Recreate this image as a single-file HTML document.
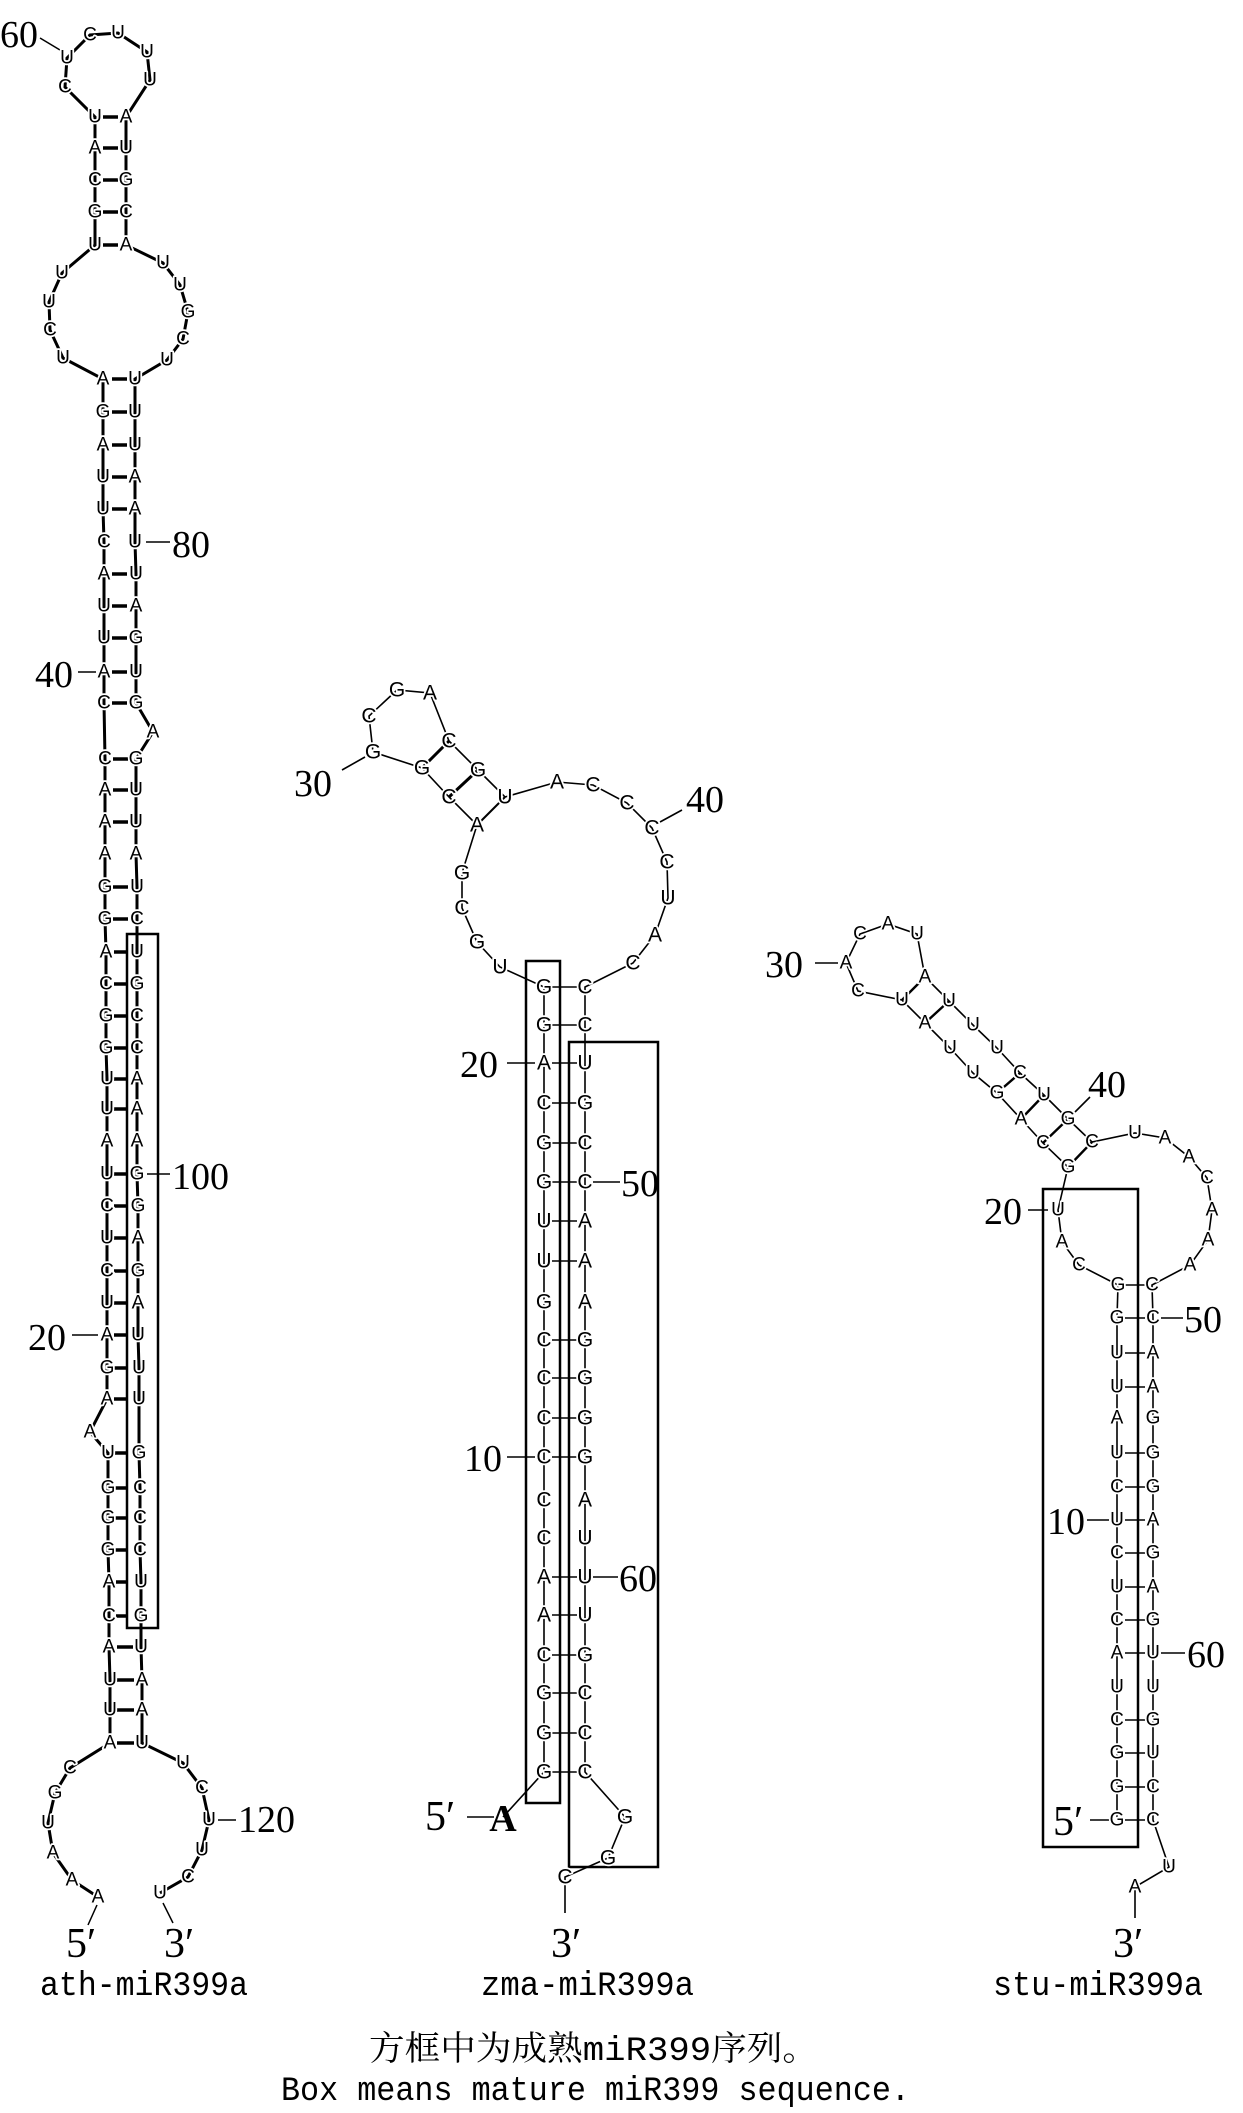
<!DOCTYPE html>
<html><head><meta charset="utf-8">
<style>
html,body{margin:0;padding:0;background:#fff;}
svg{display:block;}
.n{font-family:"Liberation Sans",Arial,sans-serif;font-size:19px;text-anchor:middle;dominant-baseline:central;fill:#000;stroke:#fff;stroke-width:3.5px;paint-order:stroke;stroke-linejoin:round;}
.z{font-size:21px;}
.L{font-family:"Liberation Serif",serif;font-size:38px;fill:#000;dominant-baseline:central;}
.T{font-family:"Liberation Mono","Noto Serif CJK SC",monospace;font-size:34px;fill:#000;}
</style></head><body>
<svg width="1243" height="2113" viewBox="0 0 1243 2113" xmlns="http://www.w3.org/2000/svg">
<!-- ================= ath ================= -->
<g fill="none" stroke="#000">
<polyline stroke-width="3" points="98,1897 72,1880 53,1853 48,1823 55,1793 70,1768 110,1743 110,1710 110,1680 109,1647 109,1616 109,1582 108,1550 108,1518 108,1488 108,1453 90,1432 107,1399 107,1368 107,1335 107,1303 107,1271 107,1238 107,1206 107,1174 107,1141 107,1109 107,1079 106,1048 106,1016 106,984 106,952 105,919 105,887 105,854 105,822 105,790 105,759 104,703 104,672 104,638 104,606 104,574 104,542 103,509 103,477 103,445 103,412 103,379 63,358 50,330 49,302 62,273 95,245 95,212 95,180 95,148 95,117 65,87 67,58 90,35 118,33 147,52 150,80 126,117 126,148 126,180 126,212 126,245 163,263 180,285 188,312 183,339 167,360 135,379 135,412 135,445 135,477 135,509 135,542 136,574 136,606 136,638 136,672 136,703 153,732 136,759 136,790 136,822 136,854 137,887 137,919 137,952 137,984 137,1016 137,1048 137,1079 137,1109 137,1141 137,1174 138,1206 138,1238 138,1271 138,1303 138,1335 139,1368 139,1399 139,1453 140,1488 140,1518 140,1550 141,1582 141,1616 141,1647 142,1680 142,1710 142,1743 183,1763 202,1788 209,1820 202,1850 188,1877 160,1893"/>
<g stroke-width="3.5">
<line x1="103" y1="117" x2="118" y2="117"/><line x1="103" y1="148" x2="118" y2="148"/><line x1="103" y1="180" x2="118" y2="180"/><line x1="103" y1="212" x2="118" y2="212"/><line x1="103" y1="245" x2="118" y2="245"/>
<line x1="112" y1="379" x2="127" y2="379"/><line x1="112" y1="412" x2="127" y2="412"/><line x1="112" y1="445" x2="127" y2="445"/><line x1="112" y1="477" x2="127" y2="477"/><line x1="112" y1="509" x2="127" y2="509"/>
<line x1="112" y1="574" x2="127" y2="574"/><line x1="112" y1="606" x2="127" y2="606"/><line x1="112" y1="638" x2="127" y2="638"/><line x1="112" y1="672" x2="127" y2="672"/><line x1="112" y1="703" x2="127" y2="703"/>
<line x1="113" y1="759" x2="128" y2="759"/><line x1="113" y1="790" x2="128" y2="790"/><line x1="113" y1="822" x2="128" y2="822"/><line x1="113" y1="887" x2="128" y2="887"/><line x1="113" y1="919" x2="128" y2="919"/>
<line x1="114" y1="952" x2="128" y2="952"/><line x1="114" y1="984" x2="128" y2="984"/><line x1="114" y1="1016" x2="128" y2="1016"/><line x1="114" y1="1048" x2="128" y2="1048"/><line x1="114" y1="1079" x2="128" y2="1079"/><line x1="114" y1="1109" x2="128" y2="1109"/><line x1="114" y1="1174" x2="128" y2="1174"/><line x1="114" y1="1206" x2="128" y2="1206"/><line x1="114" y1="1238" x2="128" y2="1238"/><line x1="114" y1="1271" x2="128" y2="1271"/><line x1="114" y1="1303" x2="128" y2="1303"/><line x1="114" y1="1335" x2="128" y2="1335"/><line x1="114" y1="1368" x2="128" y2="1368"/><line x1="114" y1="1399" x2="128" y2="1399"/><line x1="115" y1="1453" x2="128" y2="1453"/><line x1="115" y1="1488" x2="128" y2="1488"/><line x1="115" y1="1518" x2="128" y2="1518"/><line x1="115" y1="1550" x2="128" y2="1550"/><line x1="116" y1="1582" x2="128" y2="1582"/><line x1="116" y1="1616" x2="128" y2="1616"/>
<line x1="117" y1="1647" x2="133" y2="1647"/><line x1="117" y1="1680" x2="134" y2="1680"/><line x1="117" y1="1710" x2="134" y2="1710"/><line x1="117" y1="1743" x2="134" y2="1743"/>
</g>
<rect x="127" y="934" width="31" height="694" stroke-width="2.5"/>
<g stroke-width="1.5">
<line x1="40" y1="38" x2="60" y2="50"/>
<line x1="146" y1="542" x2="170" y2="542"/>
<line x1="78" y1="672" x2="96" y2="672"/>
<line x1="147" y1="1174" x2="170" y2="1174"/>
<line x1="72" y1="1335" x2="98" y2="1335"/>
<line x1="218" y1="1820" x2="236" y2="1820"/>
<line x1="97" y1="1905" x2="88" y2="1925"/>
<line x1="163" y1="1903" x2="173" y2="1923"/>
</g>
</g>
<g class="n">
<text x="67" y="58">U</text><text x="65" y="87">C</text><text x="90" y="35">C</text><text x="118" y="33">U</text><text x="147" y="52">U</text><text x="150" y="80">U</text>
<text x="95" y="117">U</text><text x="95" y="148">A</text><text x="95" y="180">C</text><text x="95" y="212">G</text><text x="95" y="245">U</text>
<text x="126" y="117">A</text><text x="126" y="148">U</text><text x="126" y="180">G</text><text x="126" y="212">C</text><text x="126" y="245">A</text>
<text x="62" y="273">U</text><text x="49" y="302">U</text><text x="50" y="330">C</text><text x="63" y="358">U</text>
<text x="163" y="263">U</text><text x="180" y="285">U</text><text x="188" y="312">G</text><text x="183" y="339">C</text><text x="167" y="360">U</text>
<text x="103" y="379">A</text><text x="103" y="412">G</text><text x="103" y="445">A</text><text x="103" y="477">U</text><text x="103" y="509">U</text><text x="104" y="542">C</text><text x="104" y="574">A</text><text x="104" y="606">U</text><text x="104" y="638">U</text><text x="104" y="672">A</text><text x="104" y="703">C</text>
<text x="105" y="759">C</text><text x="105" y="790">A</text><text x="105" y="822">A</text><text x="105" y="854">A</text><text x="105" y="887">G</text><text x="105" y="919">G</text><text x="106" y="952">A</text><text x="106" y="984">C</text><text x="106" y="1016">G</text><text x="106" y="1048">G</text><text x="107" y="1079">U</text><text x="107" y="1109">U</text><text x="107" y="1141">A</text><text x="107" y="1174">U</text><text x="107" y="1206">C</text><text x="107" y="1238">U</text><text x="107" y="1271">C</text><text x="107" y="1303">U</text><text x="107" y="1335">A</text><text x="107" y="1368">G</text><text x="107" y="1399">A</text>
<text x="90" y="1432">A</text>
<text x="108" y="1453">U</text><text x="108" y="1488">G</text><text x="108" y="1518">G</text><text x="108" y="1550">G</text><text x="109" y="1582">A</text><text x="109" y="1616">C</text><text x="109" y="1647">A</text><text x="110" y="1680">U</text><text x="110" y="1710">U</text><text x="110" y="1743">A</text>
<text x="135" y="379">U</text><text x="135" y="412">U</text><text x="135" y="445">U</text><text x="135" y="477">A</text><text x="135" y="509">A</text><text x="135" y="542">U</text><text x="136" y="574">U</text><text x="136" y="606">A</text><text x="136" y="638">G</text><text x="136" y="672">U</text><text x="136" y="703">G</text>
<text x="153" y="732">A</text>
<text x="136" y="759">G</text><text x="136" y="790">U</text><text x="136" y="822">U</text><text x="136" y="854">A</text><text x="137" y="887">U</text><text x="137" y="919">C</text><text x="137" y="952">U</text><text x="137" y="984">G</text><text x="137" y="1016">C</text><text x="137" y="1048">C</text><text x="137" y="1079">A</text><text x="137" y="1109">A</text><text x="137" y="1141">A</text><text x="137" y="1174">G</text><text x="138" y="1206">G</text><text x="138" y="1238">A</text><text x="138" y="1271">G</text><text x="138" y="1303">A</text><text x="138" y="1335">U</text><text x="139" y="1368">U</text><text x="139" y="1399">U</text><text x="139" y="1453">G</text><text x="140" y="1488">C</text><text x="140" y="1518">C</text><text x="140" y="1550">C</text><text x="141" y="1582">U</text><text x="141" y="1616">G</text><text x="141" y="1647">U</text><text x="142" y="1680">A</text><text x="142" y="1710">A</text><text x="142" y="1743">U</text>
<text x="70" y="1768">C</text><text x="55" y="1793">G</text><text x="48" y="1823">U</text><text x="53" y="1853">A</text><text x="72" y="1880">A</text><text x="98" y="1897">A</text>
<text x="183" y="1763">U</text><text x="202" y="1788">C</text><text x="209" y="1820">U</text><text x="202" y="1850">U</text><text x="188" y="1877">C</text><text x="160" y="1893">U</text>
</g>
<g class="L">
<text x="0" y="35">60</text>
<text x="172" y="545">80</text>
<text x="35" y="675">40</text>
<text x="172" y="1177">100</text>
<text x="28" y="1338">20</text>
<text x="238" y="1820">120</text>
<text x="66" y="1944" font-size="42">5′</text>
<text x="164" y="1944" font-size="42">3′</text>
</g>
<!-- ================= zma ================= -->
<g fill="none" stroke="#000" stroke-width="1.6">
<polyline points="503,1817 544,1772 544,1733 544,1693 544,1655 544,1615 544,1577 544,1538 544,1500 544,1457 544,1418 544,1378 544,1340 544,1302 544,1261 544,1221 544,1182 544,1143 544,1103 544,1063 544,1025 544,987 500,967 477,942 462,908 462,873 477,825 449,797 422,768 373,752 369,716 397,690 430,693 449,741 478,770 505,797 557,782 593,785 627,803 652,828 667,862 668,898 655,935 633,963 585,987 585,1025 585,1063 585,1103 585,1143 585,1182 585,1221 585,1261 585,1302 585,1340 585,1378 585,1418 585,1457 585,1500 585,1538 585,1577 585,1615 585,1655 585,1693 585,1733 585,1772 625,1817 608,1858 565,1877 565,1913"/>
<line x1="422" y1="768" x2="449" y2="741" stroke-width="3"/>
<line x1="449" y1="797" x2="478" y2="770" stroke-width="3"/>
<line x1="505" y1="797" x2="477" y2="825" stroke-width="2"/>
<g stroke-width="1.6">
<line x1="552" y1="987" x2="577" y2="987"/><line x1="552" y1="1025" x2="577" y2="1025"/><line x1="552" y1="1063" x2="577" y2="1063"/><line x1="552" y1="1103" x2="577" y2="1103"/><line x1="552" y1="1143" x2="577" y2="1143"/><line x1="552" y1="1182" x2="577" y2="1182"/><line x1="552" y1="1221" x2="577" y2="1221"/><line x1="552" y1="1261" x2="577" y2="1261"/><line x1="552" y1="1340" x2="577" y2="1340"/><line x1="552" y1="1378" x2="577" y2="1378"/><line x1="552" y1="1418" x2="577" y2="1418"/><line x1="552" y1="1457" x2="577" y2="1457"/><line x1="552" y1="1577" x2="577" y2="1577"/><line x1="552" y1="1615" x2="577" y2="1615"/><line x1="552" y1="1655" x2="577" y2="1655"/><line x1="552" y1="1693" x2="577" y2="1693"/><line x1="552" y1="1733" x2="577" y2="1733"/><line x1="552" y1="1772" x2="577" y2="1772"/>
<line x1="342" y1="770" x2="365" y2="757"/><line x1="660" y1="822" x2="682" y2="810"/>
<line x1="507" y1="1063" x2="535" y2="1063"/><line x1="593" y1="1182" x2="620" y2="1182"/><line x1="507" y1="1457" x2="535" y2="1457"/><line x1="593" y1="1577" x2="618" y2="1577"/>
<line x1="467" y1="1817" x2="494" y2="1817"/>
</g>
<rect x="526" y="961" width="34" height="842" stroke-width="2.5"/>
<rect x="569" y="1042" width="89" height="825" stroke-width="2.5"/>
</g>
<g class="n z">
<text x="397" y="690">G</text><text x="430" y="693">A</text><text x="369" y="716">C</text><text x="373" y="752">G</text><text x="422" y="768">G</text><text x="449" y="741">C</text><text x="478" y="770">G</text><text x="449" y="797">C</text><text x="505" y="797">U</text><text x="477" y="825">A</text>
<text x="462" y="873">G</text><text x="462" y="908">C</text><text x="477" y="942">G</text><text x="500" y="967">U</text>
<text x="557" y="782">A</text><text x="593" y="785">C</text><text x="627" y="803">C</text><text x="652" y="828">C</text><text x="667" y="862">C</text><text x="668" y="898">U</text><text x="655" y="935">A</text><text x="633" y="963">C</text>
<text x="544" y="987">G</text><text x="544" y="1025">G</text><text x="544" y="1063">A</text><text x="544" y="1103">C</text><text x="544" y="1143">G</text><text x="544" y="1182">G</text><text x="544" y="1221">U</text><text x="544" y="1261">U</text><text x="544" y="1302">G</text><text x="544" y="1340">C</text><text x="544" y="1378">C</text><text x="544" y="1418">C</text><text x="544" y="1457">C</text><text x="544" y="1500">C</text><text x="544" y="1538">C</text><text x="544" y="1577">A</text><text x="544" y="1615">A</text><text x="544" y="1655">C</text><text x="544" y="1693">G</text><text x="544" y="1733">G</text><text x="544" y="1772">G</text>
<text x="585" y="987">C</text><text x="585" y="1025">C</text><text x="585" y="1063">U</text><text x="585" y="1103">G</text><text x="585" y="1143">C</text><text x="585" y="1182">C</text><text x="585" y="1221">A</text><text x="585" y="1261">A</text><text x="585" y="1302">A</text><text x="585" y="1340">G</text><text x="585" y="1378">G</text><text x="585" y="1418">G</text><text x="585" y="1457">G</text><text x="585" y="1500">A</text><text x="585" y="1538">U</text><text x="585" y="1577">U</text><text x="585" y="1615">U</text><text x="585" y="1655">G</text><text x="585" y="1693">C</text><text x="585" y="1733">C</text><text x="585" y="1772">C</text>
<text x="625" y="1817">G</text><text x="608" y="1858">G</text><text x="565" y="1877">C</text>
</g>
<text x="503" y="1819" class="L" font-size="36" font-weight="bold" text-anchor="middle">A</text>
<g class="L">
<text x="294" y="784">30</text><text x="686" y="800">40</text>
<text x="460" y="1065">20</text><text x="621" y="1184">50</text>
<text x="464" y="1459">10</text><text x="619" y="1579">60</text>
<text x="425" y="1817" font-size="42">5′</text>
<text x="551" y="1944" font-size="42">3′</text>
</g>
<!-- ================= stu ================= -->
<g fill="none" stroke="#000" stroke-width="1.6">
<polyline points="1117,1820 1117,1787 1117,1753 1117,1720 1117,1687 1117,1653 1117,1620 1117,1587 1117,1553 1117,1520 1117,1487 1117,1453 1117,1418 1117,1387 1117,1353 1117,1318 1118,1285 1079,1265 1062,1242 1058,1210 1068,1167 1043,1143 1021,1119 997,1093 973,1073 950,1048 925,1023 902,1000 858,991 846,963 860,934 888,924 917,934 925,977 949,1001 973,1025 997,1048 1020,1073 1044,1095 1068,1119 1092,1142 1135,1133 1165,1138 1189,1157 1207,1178 1212,1210 1208,1240 1190,1265 1152,1285 1153,1318 1153,1353 1153,1387 1153,1418 1153,1453 1153,1487 1153,1520 1153,1553 1153,1587 1153,1620 1153,1653 1153,1687 1153,1720 1153,1753 1153,1787 1153,1820 1169,1867 1135,1887 1135,1918"/>
<g stroke-width="2.4">
<line x1="902" y1="1000" x2="925" y2="977"/><line x1="925" y1="1023" x2="949" y2="1001"/><line x1="997" y1="1093" x2="1020" y2="1073"/><line x1="1021" y1="1119" x2="1044" y2="1095"/><line x1="1043" y1="1143" x2="1068" y2="1119"/><line x1="1068" y1="1167" x2="1092" y2="1142"/>
</g>
<g stroke-width="1.6">
<line x1="1125" y1="1285" x2="1145" y2="1285"/><line x1="1125" y1="1318" x2="1145" y2="1318"/><line x1="1125" y1="1353" x2="1145" y2="1353"/><line x1="1125" y1="1387" x2="1145" y2="1387"/><line x1="1125" y1="1453" x2="1145" y2="1453"/><line x1="1125" y1="1487" x2="1145" y2="1487"/><line x1="1125" y1="1520" x2="1145" y2="1520"/><line x1="1125" y1="1553" x2="1145" y2="1553"/><line x1="1125" y1="1587" x2="1145" y2="1587"/><line x1="1125" y1="1620" x2="1145" y2="1620"/><line x1="1125" y1="1653" x2="1145" y2="1653"/><line x1="1125" y1="1720" x2="1145" y2="1720"/><line x1="1125" y1="1753" x2="1145" y2="1753"/><line x1="1125" y1="1787" x2="1145" y2="1787"/><line x1="1125" y1="1820" x2="1145" y2="1820"/>
<line x1="815" y1="963" x2="838" y2="963"/><line x1="1075" y1="1112" x2="1090" y2="1097"/>
<line x1="1028" y1="1210" x2="1048" y2="1210"/><line x1="1161" y1="1318" x2="1183" y2="1318"/>
<line x1="1087" y1="1520" x2="1109" y2="1520"/><line x1="1161" y1="1653" x2="1185" y2="1653"/>
<line x1="1090" y1="1820" x2="1109" y2="1820"/>
</g>
<rect x="1043" y="1189" width="95" height="658" stroke-width="2.5"/>
</g>
<g class="n">
<text x="860" y="934">C</text><text x="888" y="924">A</text><text x="917" y="934">U</text><text x="846" y="963">A</text><text x="858" y="991">C</text>
<text x="902" y="1000">U</text><text x="925" y="977">A</text><text x="949" y="1001">U</text><text x="925" y="1023">A</text><text x="973" y="1025">U</text><text x="950" y="1048">U</text><text x="997" y="1048">U</text><text x="973" y="1073">U</text><text x="1020" y="1073">C</text><text x="997" y="1093">G</text><text x="1044" y="1095">U</text><text x="1021" y="1119">A</text><text x="1068" y="1119">G</text><text x="1043" y="1143">C</text><text x="1092" y="1142">C</text><text x="1068" y="1167">G</text>
<text x="1135" y="1133">U</text><text x="1165" y="1138">A</text><text x="1189" y="1157">A</text><text x="1207" y="1178">C</text><text x="1212" y="1210">A</text><text x="1208" y="1240">A</text><text x="1190" y="1265">A</text>
<text x="1058" y="1210">U</text><text x="1062" y="1242">A</text><text x="1079" y="1265">C</text>
<text x="1118" y="1285">G</text><text x="1117" y="1318">G</text><text x="1117" y="1353">U</text><text x="1117" y="1387">U</text><text x="1117" y="1418">A</text><text x="1117" y="1453">U</text><text x="1117" y="1487">C</text><text x="1117" y="1520">U</text><text x="1117" y="1553">C</text><text x="1117" y="1587">U</text><text x="1117" y="1620">C</text><text x="1117" y="1653">A</text><text x="1117" y="1687">U</text><text x="1117" y="1720">C</text><text x="1117" y="1753">G</text><text x="1117" y="1787">G</text><text x="1117" y="1820">G</text>
<text x="1152" y="1285">C</text><text x="1153" y="1318">C</text><text x="1153" y="1353">A</text><text x="1153" y="1387">A</text><text x="1153" y="1418">G</text><text x="1153" y="1453">G</text><text x="1153" y="1487">G</text><text x="1153" y="1520">A</text><text x="1153" y="1553">G</text><text x="1153" y="1587">A</text><text x="1153" y="1620">G</text><text x="1153" y="1653">U</text><text x="1153" y="1687">U</text><text x="1153" y="1720">G</text><text x="1153" y="1753">U</text><text x="1153" y="1787">C</text><text x="1153" y="1820">C</text>
<text x="1169" y="1867">U</text><text x="1135" y="1887">A</text>
</g>
<g class="L">
<text x="765" y="965">30</text><text x="1088" y="1085">40</text>
<text x="984" y="1212">20</text><text x="1184" y="1320">50</text>
<text x="1047" y="1522">10</text><text x="1187" y="1655">60</text>
<text x="1053" y="1822" font-size="42">5′</text>
<text x="1113" y="1944" font-size="42">3′</text>
</g>
<!-- ================= captions ================= -->
<text class="T" x="40" y="1995" textLength="208" lengthAdjust="spacingAndGlyphs">ath-miR399a</text>
<text class="T" x="481" y="1995" textLength="213" lengthAdjust="spacingAndGlyphs">zma-miR399a</text>
<text class="T" x="993" y="1995" textLength="210" lengthAdjust="spacingAndGlyphs">stu-miR399a</text>
<text class="T" x="369" y="2060" font-size="36" textLength="449" lengthAdjust="spacingAndGlyphs">方框中为成熟miR399序列。</text>
<text class="T" x="281" y="2100" font-size="36" textLength="629" lengthAdjust="spacingAndGlyphs">Box means mature miR399 sequence.</text>
</svg>
</body></html>
